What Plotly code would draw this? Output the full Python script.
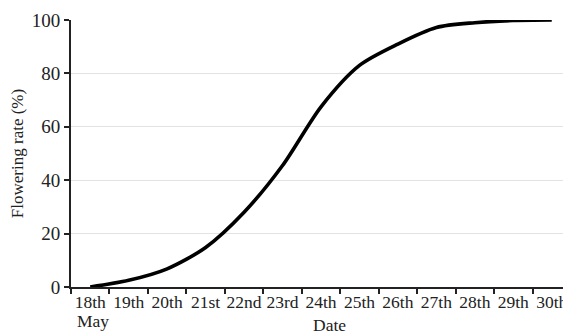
import plotly.graph_objects as go

dates = ["18th", "19th", "20th", "21st", "22nd", "23rd", "24th",
         "25th", "26th", "27th", "28th", "29th", "30th"]
month_label = "May"
flowering_rate = [0, 2.5, 6.8, 14.8, 28, 45.5, 67.5, 83, 91, 97.2, 99, 99.8, 100]
y_ticks = [0, 20, 40, 60, 80, 100]

FONT = "Liberation Serif"
INK = "#222"

# the page body has an 8px default margin, so the figure is drawn at (8, 8)
OFF = 8
W, H = 571 - OFF, 335 - OFF
ML, MR, MT, MB = 71 - OFF, 0, 20 - OFF, 48

fig = go.Figure(go.Scatter(
    x=dates, y=flowering_rate, mode="lines",
    line=dict(color="black", width=3.6, shape="spline", smoothing=0.8),
    hoverinfo="skip", showlegend=False,
))

pw = W - ML - MR
ph = H - MT - MB

fig.update_layout(
    width=W, height=H,
    margin=dict(l=ML, r=MR, t=MT, b=MB, autoexpand=False),
    paper_bgcolor="white", plot_bgcolor="white",
    font=dict(family=FONT, size=17, color=INK),
    xaxis=dict(
        type="category", range=[-0.5, 12.5],
        tickson="boundaries", tickangle=0,
        showgrid=False, zeroline=False,
        showline=True, linecolor=INK, linewidth=2,
        ticks="outside", ticklen=5, tickcolor=INK, tickwidth=2,
        ticklabelstandoff=-2,
        tickfont=dict(family=FONT, size=17.5, color=INK),
    ),
    yaxis=dict(
        range=[0, 100], tickvals=y_ticks,
        showgrid=True, gridcolor="#e3e3e3", gridwidth=1, zeroline=False,
        showline=True, linecolor=INK, linewidth=2,
        ticks="outside", ticklen=5, tickcolor=INK, tickwidth=2,
        tickfont=dict(family=FONT, size=19, color=INK),
        title=dict(text="Flowering rate (%)", font=dict(family=FONT, size=17, color=INK), standoff=6),
    ),
    annotations=[
        dict(
            text="Date", xref="paper", yref="paper",
            x=(329 - 71) / pw, y=(287 - 325) / ph,
            xanchor="center", yanchor="middle",
            showarrow=False, font=dict(family=FONT, size=17.5, color=INK),
        ),
        dict(
            text=month_label, xref="x", yref="paper",
            x=dates[0], xshift=3, y=(287 - 321) / ph,
            xanchor="center", yanchor="middle",
            showarrow=False, font=dict(family=FONT, size=17.5, color=INK),
        ),
    ],
)

fig.write_html("out.html")
